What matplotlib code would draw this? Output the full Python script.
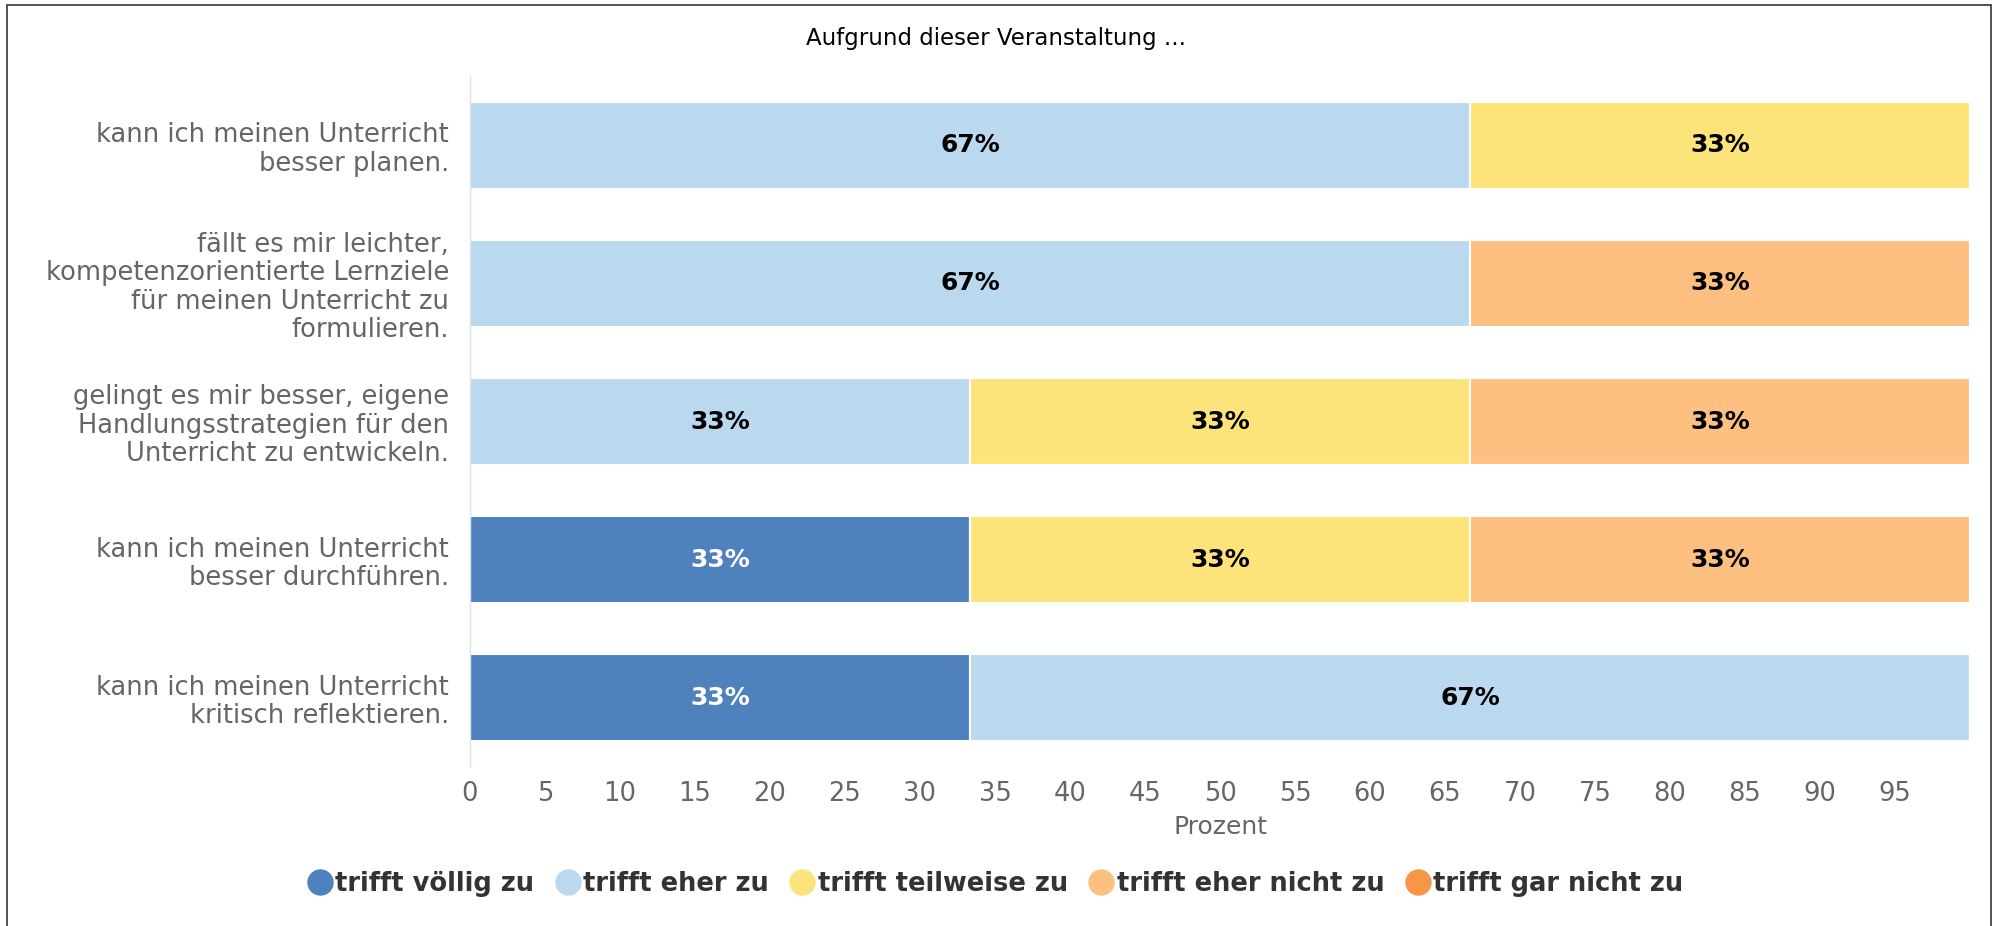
import numpy as np
import matplotlib
matplotlib.use("Agg")
import matplotlib.pyplot as plt
from matplotlib.patches import Rectangle
from matplotlib.lines import Line2D

# Daten
fragen = [
    "kann ich meinen Unterricht\nbesser planen.",
    "fällt es mir leichter,\nkompetenzorientierte Lernziele\nfür meinen Unterricht zu\nformulieren.",
    "gelingt es mir besser, eigene\nHandlungsstrategien für den\nUnterricht zu entwickeln.",
    "kann ich meinen Unterricht\nbesser durchführen.",
    "kann ich meinen Unterricht\nkritisch reflektieren.",
]
kategorien = ["trifft völlig zu", "trifft eher zu", "trifft teilweise zu",
              "trifft eher nicht zu", "trifft gar nicht zu"]
voellig = [0, 0, 0, 33.33, 33.33]
eher = [66.67, 66.67, 33.33, 0, 66.67]
teilweise = [33.33, 0, 33.33, 33.33, 0]
eher_nicht = [0, 33.33, 33.33, 33.33, 0]
gar_nicht = [0, 0, 0, 0, 0]
farben = ["#4f81bd", "#bbd9ee", "#fde47a", "#fec081", "#f79646"]
textfarben = ["white", "black", "black", "black", "black"]

werte = np.array([voellig, eher, teilweise, eher_nicht, gar_nicht])

fig = plt.figure(figsize=(19.93, 9.26), dpi=100)
ax = fig.add_axes([0.2358, 0.1717, 0.7527, 0.7462])

y = np.arange(len(fragen))
links = np.zeros(len(fragen))
for i, kat in enumerate(kategorien):
    bars = ax.barh(y, werte[i], left=links, height=0.63, color=farben[i],
                   edgecolor="white", linewidth=1.5, label=kat)
    for j, v in enumerate(werte[i]):
        if v > 0:
            ax.text(links[j] + v / 2, y[j], f"{v:.0f}%", ha="center", va="center",
                    fontsize=18, fontweight="bold", color=textfarben[i])
    links += werte[i]

ax.set_xlim(0, 100)
ax.set_ylim(len(fragen) - 0.5, -0.5)
ax.set_yticks(y)
ax.set_yticklabels(fragen, fontsize=18.5, color="#666666", linespacing=1.12)
ax.set_xticks(np.arange(0, 100, 5))
ax.tick_params(axis="x", length=0, labelsize=18.5, labelcolor="#666666", pad=10)
ax.tick_params(axis="y", length=0, pad=15)
ax.set_xlabel("Prozent", fontsize=18, color="#666666", labelpad=6)
for s in ["top", "right", "bottom"]:
    ax.spines[s].set_visible(False)
ax.spines["left"].set_color("#d8e2ee")
ax.spines["left"].set_linewidth(1)

fig.text(0.5, 0.958, "Aufgrund dieser Veranstaltung ...", ha="center", va="center",
         fontsize=16.5, color="black")

handles = [Line2D([], [], marker="o", linestyle="", markersize=18, color=c) for c in farben]
leg = fig.legend(handles, kategorien, loc="center", bbox_to_anchor=(0.5, 0.045), ncol=5,
                 frameon=False, handlelength=0.8, handletextpad=0.2, columnspacing=0.9,
                 prop={"size": 18.5, "weight": "bold"})
for t in leg.get_texts():
    t.set_color("#333333")

fig.patches.append(Rectangle((0.0035, -0.01), 0.9955, 1.0046, transform=fig.transFigure,
                             fill=False, edgecolor="#333333", linewidth=1.2))

fig.savefig("out.png", dpi=100)
